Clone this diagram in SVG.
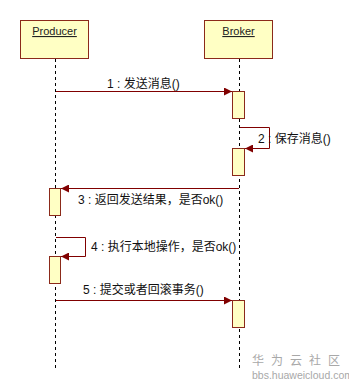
<svg xmlns="http://www.w3.org/2000/svg" width="349" height="389" viewBox="0 0 349 389">
<style>
.box{fill:#ffffc4;stroke:#8b2a1a;stroke-width:1}
.act{fill:#ffffc4;stroke:#8b2a1a;stroke-width:1}
.life{stroke:#000;stroke-width:1;stroke-dasharray:3,3;fill:none}
.msg{stroke:#800000;stroke-width:1;fill:none}
.name{font-family:"Liberation Sans","Noto Sans",sans-serif;font-size:11px;fill:#222;text-decoration:underline;text-anchor:middle}
.lbl{font-family:"Liberation Sans","Noto Sans CJK SC",sans-serif;font-size:12px;fill:#111}
.wm{fill:#a8a8a8}
</style>
<defs>
<marker id="arr" viewBox="0 0 10 10" refX="10" refY="5" markerWidth="9" markerHeight="8" markerUnits="userSpaceOnUse" orient="auto">
<path d="M0,0 L10,5 L0,10 z" fill="#800000"/>
</marker>
</defs>
<g id="producer">
<rect class="box" x="20.5" y="20.5" width="68" height="38"/>
<text class="name" x="54.5" y="35">Producer</text>
<line class="life" x1="55.5" y1="59" x2="55.5" y2="368"/>
</g>
<g id="broker">
<rect class="box" x="204.5" y="20.5" width="68" height="38"/>
<text class="name" x="238.5" y="35">Broker</text>
<line class="life" x1="239.5" y1="59" x2="239.5" y2="368"/>
</g>
<g id="activations">
<rect class="act" x="232.5" y="91.5" width="12" height="27"/>
<rect class="act" x="232.5" y="148.5" width="12" height="27"/>
<rect class="act" x="49.5" y="188.5" width="11" height="27"/>
<rect class="act" x="49.5" y="256.5" width="11" height="27"/>
<rect class="act" x="232.5" y="300.5" width="12" height="27"/>
</g>
<g id="connectors">
<line class="msg" x1="56" y1="91.5" x2="232" y2="91.5" marker-end="url(#arr)"/>
<polyline class="msg" points="240,127.5 269.5,127.5 269.5,148.5 245,148.5" marker-end="url(#arr)"/>
<line class="msg" x1="239" y1="188.5" x2="61" y2="188.5" marker-end="url(#arr)"/>
<polyline class="msg" points="56,237.5 85.5,237.5 85.5,256.5 61,256.5" marker-end="url(#arr)"/>
<line class="msg" x1="56" y1="300.5" x2="232" y2="300.5" marker-end="url(#arr)"/>
</g>
<g id="labels">
<text class="lbl" x="107" y="88">1 : 发送消息()</text>
<text class="lbl" x="258" y="143">2 : 保存消息()</text>
<text class="lbl" x="78" y="204">3 : 返回发送结果，是否ok()</text>
<text class="lbl" x="91" y="251">4 : 执行本地操作，是否ok()</text>
<text class="lbl" x="83" y="294">5 : 提交或者回滚事务()</text>
</g>
<g id="watermark">
<text class="wm" x="252" y="365" font-size="12" letter-spacing="7" font-family="'Noto Sans CJK SC',sans-serif">华为云社区</text>
<text class="wm" x="252" y="379" font-size="10.5" font-family="'Liberation Sans',sans-serif">bbs.huaweicloud.com</text>
</g>
</svg>
